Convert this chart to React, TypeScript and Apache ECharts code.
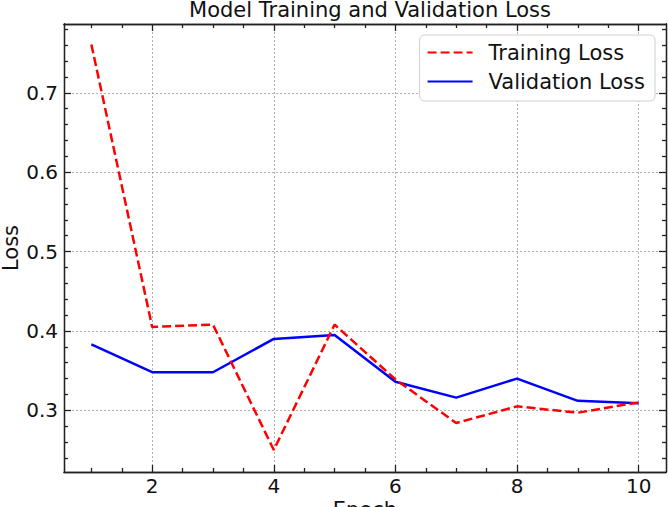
import React, { useEffect, useRef } from "react";
import * as echarts from "echarts";

const epochs = [1, 2, 3, 4, 5, 6, 7, 8, 9, 10];
const trainingLoss = [0.761, 0.405, 0.408, 0.25, 0.408, 0.339, 0.284, 0.305, 0.297, 0.31];
const validationLoss = [0.383, 0.348, 0.348, 0.39, 0.395, 0.336, 0.316, 0.34, 0.312, 0.309];

const xMajorTicks = [2, 4, 6, 8, 10];
const xMinorTicks = [1, 1.5, 2.5, 3, 3.5, 4.5, 5, 5.5, 6.5, 7, 7.5, 8.5, 9, 9.5];
const yMajorTicks = [0.3, 0.4, 0.5, 0.6, 0.7];
const yMinorTicks = [
  0.24, 0.26, 0.28, 0.32, 0.34, 0.36, 0.38, 0.42, 0.44, 0.46, 0.48, 0.52, 0.54,
  0.56, 0.58, 0.62, 0.64, 0.66, 0.68, 0.72, 0.74, 0.76, 0.78,
];

const X_MIN = 0.55;
const X_MAX = 10.45;
const Y_MIN = 0.2223;
const Y_MAX = 0.7867;

const FONT = "DejaVu Sans";

export default function App() {
  const ref = useRef<HTMLDivElement>(null);

  useEffect(() => {
    if (!ref.current) return;
    const chart = echarts.init(ref.current, null, { renderer: "svg" });

    const lineStyle = { color: "#222", width: 1.3 };
    const gridLine = { show: true, lineStyle: { color: "#999", width: 0.8, type: [2, 2] as any } };

    const xAxisBase = (position: "bottom" | "top", ticks: number[], len: number, main: boolean) => ({
      type: "value",
      position,
      min: X_MIN,
      max: X_MAX,
      axisLine: { show: true, onZero: false, lineStyle },
      axisTick: { show: true, inside: true, length: len, customValues: ticks, lineStyle },
      axisLabel: main
        ? { show: true, customValues: xMajorTicks, fontSize: 20, color: "#111", fontFamily: FONT, margin: 4 }
        : { show: false },
      splitLine: main ? gridLine : { show: false },
    });
    const yAxisBase = (position: "left" | "right", ticks: number[], len: number, main: boolean) => ({
      type: "value",
      position,
      min: Y_MIN,
      max: Y_MAX,
      axisLine: { show: true, onZero: false, lineStyle },
      axisTick: { show: true, inside: true, length: len, customValues: ticks, lineStyle },
      axisLabel: main
        ? {
            show: true,
            customValues: yMajorTicks,
            fontSize: 20,
            color: "#111",
            fontFamily: FONT,
            margin: 6,
            formatter: (v: number) => v.toFixed(1),
          }
        : { show: false },
      splitLine: main ? gridLine : { show: false },
    });

    const mainX: any = xAxisBase("bottom", xMajorTicks, 7, true);
    mainX.name = "Epoch";
    mainX.nameLocation = "middle";
    mainX.nameGap = 27;
    mainX.nameMoveOverlap = false;
    mainX.nameTextStyle = { fontSize: 21, color: "#111", fontFamily: FONT };

    const mainY: any = yAxisBase("left", yMajorTicks, 7, true);
    mainY.name = "Loss";
    mainY.nameLocation = "middle";
    mainY.nameGap = 43;
    mainY.nameMoveOverlap = false;
    mainY.nameTextStyle = { fontSize: 21, color: "#111", fontFamily: FONT };

    chart.setOption({
      animation: false,
      backgroundColor: "#fff",
      title: {
        text: "Model Training and Validation Loss",
        left: 365,
        textAlign: "center",
        top: -6,
        textStyle: { fontSize: 21, fontWeight: "normal", color: "#111", fontFamily: FONT },
      },
      legend: {
        orient: "vertical",
        right: 13,
        top: 35,
        itemWidth: 45,
        itemHeight: 14,
        itemGap: 8,
        padding: [7, 10, 9, 7],
        backgroundColor: "#fff",
        borderColor: "#d0d0d0",
        borderWidth: 1,
        borderRadius: 5,
        itemStyle: { opacity: 0 },
        textStyle: { fontSize: 21, color: "#111", fontFamily: FONT, lineHeight: 21, padding: [0, 0, 0, 11] },
        data: ["Training Loss", "Validation Loss"],
      },
      grid: { left: 64, right: 2, top: 24, bottom: 35, containLabel: false, outerBoundsMode: "none" },
      xAxis: [
        mainX,
        xAxisBase("bottom", xMinorTicks, 4, false),
        xAxisBase("top", xMajorTicks, 7, false),
        xAxisBase("top", xMinorTicks, 4, false),
      ],
      yAxis: [
        mainY,
        yAxisBase("left", yMinorTicks, 4, false),
        yAxisBase("right", yMajorTicks, 7, false),
        yAxisBase("right", yMinorTicks, 4, false),
      ],
      series: [
        {
          name: "Training Loss",
          type: "line",
          xAxisIndex: 0,
          yAxisIndex: 0,
          data: epochs.map((e, i) => [e, trainingLoss[i]]),
          showSymbol: false,
          symbol: "none",
          lineStyle: { color: "#ff0000", width: 2.5, type: [9, 4] },
          itemStyle: { color: "#ff0000" },
          z: 3,
        },
        {
          name: "Validation Loss",
          type: "line",
          xAxisIndex: 0,
          yAxisIndex: 0,
          data: epochs.map((e, i) => [e, validationLoss[i]]),
          showSymbol: false,
          symbol: "none",
          lineStyle: { color: "#0000ff", width: 2.5 },
          itemStyle: { color: "#0000ff" },
          z: 2,
        },
      ],
    });

    return () => chart.dispose();
  }, []);

  return <div ref={ref} style={{ width: 668, height: 507, position: "absolute", left: 0, top: 0 }} />;
}
